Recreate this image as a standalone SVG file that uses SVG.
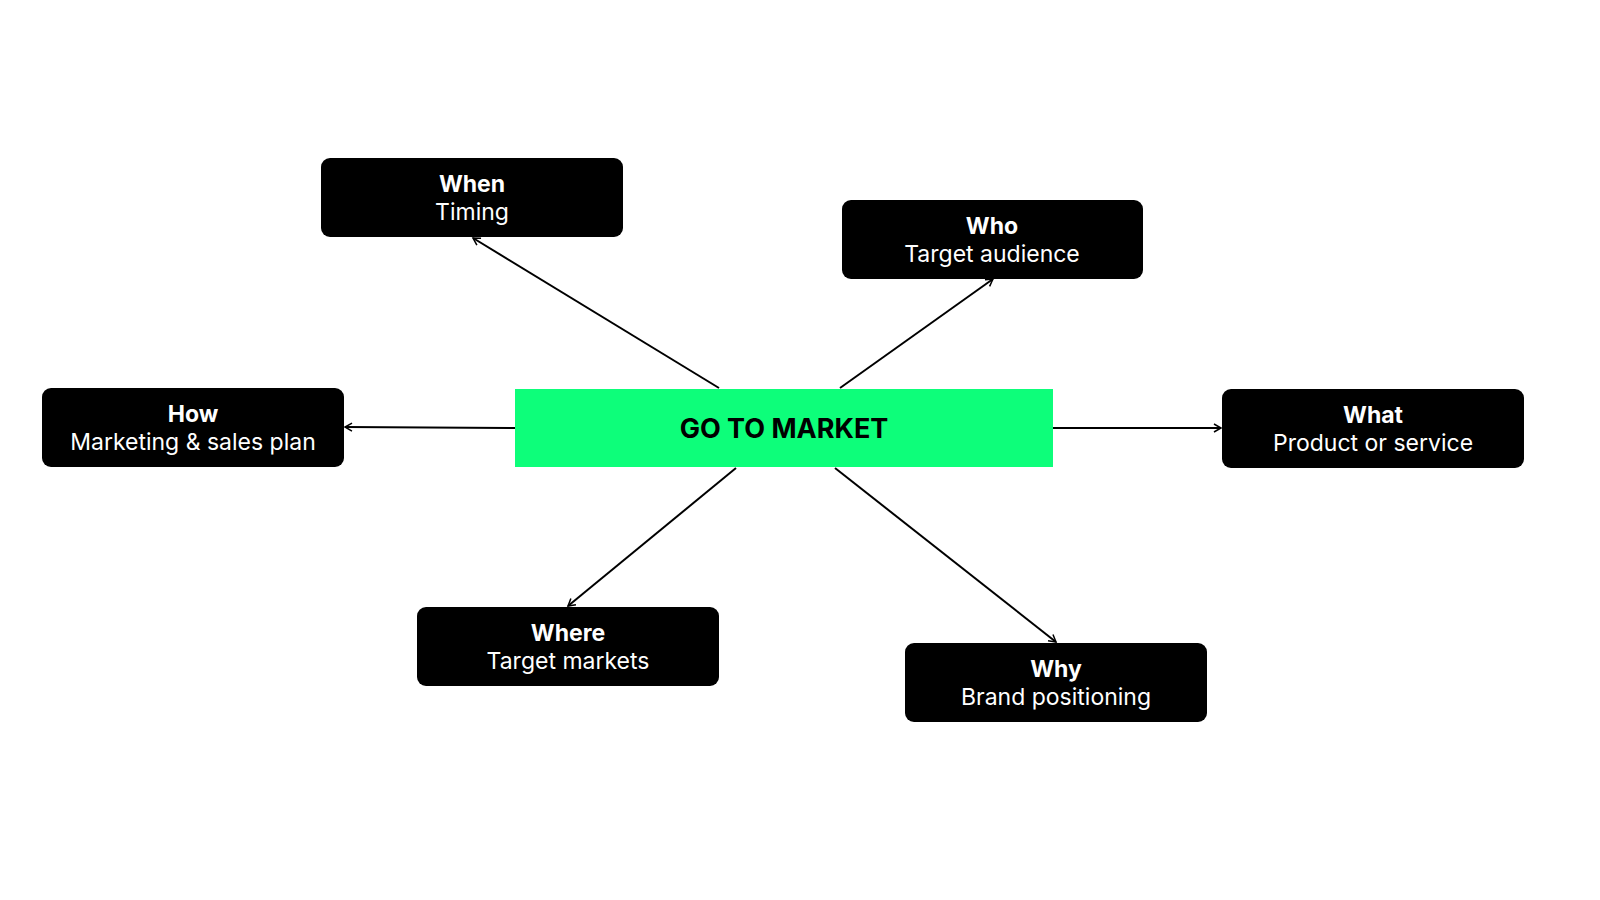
<svg xmlns="http://www.w3.org/2000/svg" width="1600" height="900" viewBox="0 0 1600 900">
<style>
.n{fill:#000}
.t{font-family:Inter,"Liberation Sans",sans-serif;font-size:23px;fill:#fff;text-anchor:middle}
.b{font-weight:bold}
.c{stroke:#000;stroke-width:2;fill:none;marker-end:url(#a)}
</style>
<defs><marker id="a" markerWidth="10" markerHeight="10" refX="8" refY="5" orient="auto" markerUnits="userSpaceOnUse"><path d="M1,1 L8,5 L1,9" fill="none" stroke="#000" stroke-width="1.5"/></marker></defs>
<rect width="1600" height="900" fill="#fff"/>
<g id="connectors">
<line class="c" x1="719" y1="388" x2="473" y2="238"/>
<line class="c" x1="840" y1="388" x2="993" y2="279"/>
<line class="c" x1="515" y1="428" x2="345" y2="427"/>
<line class="c" x1="1053" y1="428" x2="1221" y2="428"/>
<line class="c" x1="736" y1="468" x2="568" y2="606"/>
<line class="c" x1="835" y1="468" x2="1056" y2="642"/>
</g>
<g id="center"><rect x="515" y="389" width="538" height="78" fill="#0dfe7a"/><text x="784" y="438" font-family="Inter,'Liberation Sans',sans-serif" font-size="27" font-weight="bold" text-anchor="middle" fill="#000">GO TO MARKET</text></g>
<g id="when"><rect class="n" x="321" y="158" width="302" height="79" rx="9"/><text class="t b" x="472" y="192">When</text><text class="t" x="472" y="220">Timing</text></g>
<g id="who"><rect class="n" x="842" y="200" width="301" height="79" rx="9"/><text class="t b" x="992" y="234">Who</text><text class="t" x="992" y="262">Target audience</text></g>
<g id="how"><rect class="n" x="42" y="388" width="302" height="79" rx="9"/><text class="t b" x="193" y="422">How</text><text class="t" x="193" y="450">Marketing &amp; sales plan</text></g>
<g id="what"><rect class="n" x="1222" y="389" width="302" height="79" rx="9"/><text class="t b" x="1373" y="423">What</text><text class="t" x="1373" y="451">Product or service</text></g>
<g id="where"><rect class="n" x="417" y="607" width="302" height="79" rx="9"/><text class="t b" x="568" y="641">Where</text><text class="t" x="568" y="669">Target markets</text></g>
<g id="why"><rect class="n" x="905" y="643" width="302" height="79" rx="9"/><text class="t b" x="1056" y="677">Why</text><text class="t" x="1056" y="705">Brand positioning</text></g>
</svg>
